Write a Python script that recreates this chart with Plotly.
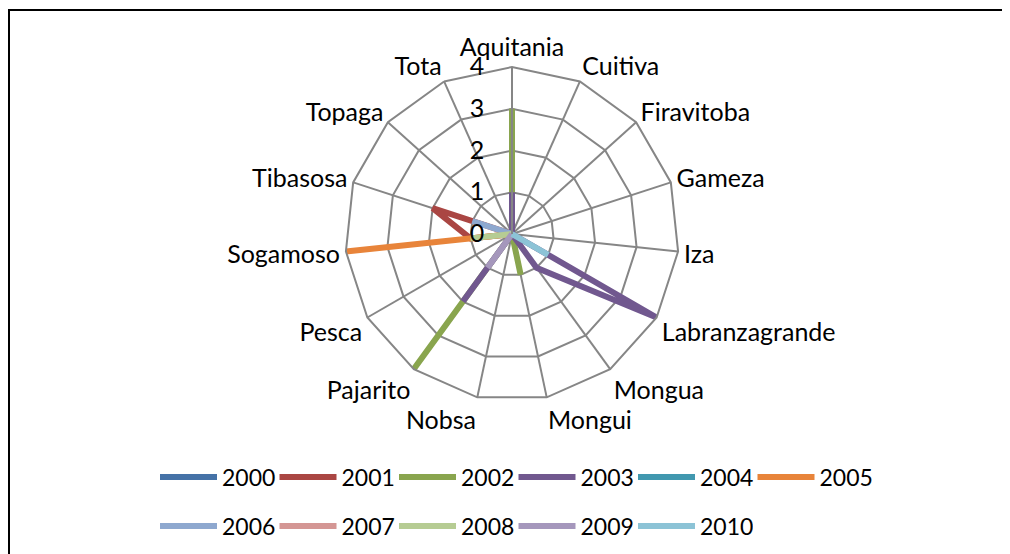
import plotly.graph_objects as go

categories = ["Aquitania", "Cuitiva", "Firavitoba", "Gameza", "Iza", "Labranzagrande",
              "Mongua", "Mongui", "Nobsa", "Pajarito", "Pesca", "Sogamoso",
              "Tibasosa", "Topaga", "Tota"]

years = ["2000", "2001", "2002", "2003", "2004", "2005",
         "2006", "2007", "2008", "2009", "2010"]

v2000 = [0, 0, 0, 0, 0, 0, 0, 0, 0, 0, 0, 0, 0, 0, 0]
v2001 = [0, 0, 0, 0, 0, 0, 0, 0, 0, 0, 0, 1, 2, 0, 0]
v2002 = [3, 0, 0, 0, 0, 0, 0, 1, 0, 4, 0, 0, 0, 0, 0]
v2003 = [1, 0, 0, 0, 0, 4, 1, 0, 0, 2, 0, 0, 0, 0, 0]
v2004 = [0, 0, 0, 0, 0, 0, 0, 0, 0, 0, 0, 0, 0, 0, 0]
v2005 = [0, 0, 0, 0, 0, 0, 0, 0, 0, 0, 0, 4, 0, 0, 0]
v2006 = [0, 0, 0, 0, 0, 0, 0, 0, 0, 0, 0, 0, 1, 0, 0]
v2007 = [0, 0, 0, 0, 0, 0, 0, 0, 0, 0, 0, 0, 0, 0, 0]
v2008 = [0, 0, 0, 0, 0, 0, 0, 0, 0, 0, 0, 1, 0, 0, 0]
v2009 = [0, 0, 0, 0, 0, 0, 0, 0, 0, 1, 0, 0, 0, 0, 0]
v2010 = [0, 0, 0, 0, 0, 1, 0, 0, 0, 0, 0, 0, 0, 0, 0]

series = [v2000, v2001, v2002, v2003, v2004, v2005,
          v2006, v2007, v2008, v2009, v2010]

colors = ["#4572A7", "#AA4643", "#89A54E", "#71588F", "#4198AF", "#E8843A",
          "#8EA8CF", "#D49694", "#B6CC93", "#A597BC", "#8CC3D6"]

FONT = "Lato"
W, H = 1010, 554
OFF = 8  # page body margin

fig = go.Figure()
for i, (yr, vals) in enumerate(zip(years, series)):
    fig.add_trace(go.Scatterpolar(
        r=vals + vals[:1],
        theta=categories + categories[:1],
        mode="lines",
        name=yr,
        line=dict(color=colors[i], width=6),
        legend="legend" if i < 6 else "legend2",
        hoverinfo="skip",
    ))

cx, cy, rad = 512 - OFF, 234 - OFF, 167
grid = "#868686"
fig.update_layout(
    width=W, height=H,
    margin=dict(l=0, r=0, t=0, b=0),
    paper_bgcolor="white",
    plot_bgcolor="white",
    font=dict(family=FONT, size=23, color="black"),
    polar=dict(
        domain=dict(x=[(cx - rad) / W, (cx + rad) / W],
                    y=[(H - cy - rad) / H, (H - cy + rad) / H]),
        bgcolor="white",
        gridshape="linear",
        angularaxis=dict(
            type="category",
            categoryorder="array",
            categoryarray=categories,
            direction="clockwise",
            rotation=90,
            showline=True,
            linecolor=grid,
            linewidth=2,
            gridcolor=grid,
            gridwidth=2,
            ticks="",
            tickfont=dict(family=FONT, size=25, color="black"),
        ),
        radialaxis=dict(
            range=[0, 4],
            tickvals=[0, 1, 2, 3, 4],
            angle=90,
            side="counterclockwise",
            showline=True,
            linecolor=grid,
            linewidth=2,
            gridcolor=grid,
            gridwidth=2,
            ticks="outside",
            ticklen=18,
            tickcolor="rgba(0,0,0,0)",
            tickangle=90,
            tickfont=dict(family=FONT, size=25, color="black"),
        ),
    ),
    legend=dict(
        orientation="h",
        x=(155 - OFF) / W, xanchor="left",
        y=(H - (477 - OFF)) / H, yanchor="middle",
        font=dict(family=FONT, size=23),
        itemwidth=57,
        entrywidth=47.5,
        bgcolor="rgba(0,0,0,0)",
    ),
    legend2=dict(
        orientation="h",
        x=(155 - OFF) / W, xanchor="left",
        y=(H - (526 - OFF)) / H, yanchor="middle",
        font=dict(family=FONT, size=23),
        itemwidth=57,
        entrywidth=47.5,
        bgcolor="rgba(0,0,0,0)",
    ),
    shapes=[dict(
        type="rect", xref="paper", yref="paper",
        x0=1 / W, x1=1.2, y0=-0.2, y1=(H - 2) / H,
        line=dict(color="black", width=2),
        fillcolor="rgba(0,0,0,0)",
    )],
)

fig.write_html("out.html")
